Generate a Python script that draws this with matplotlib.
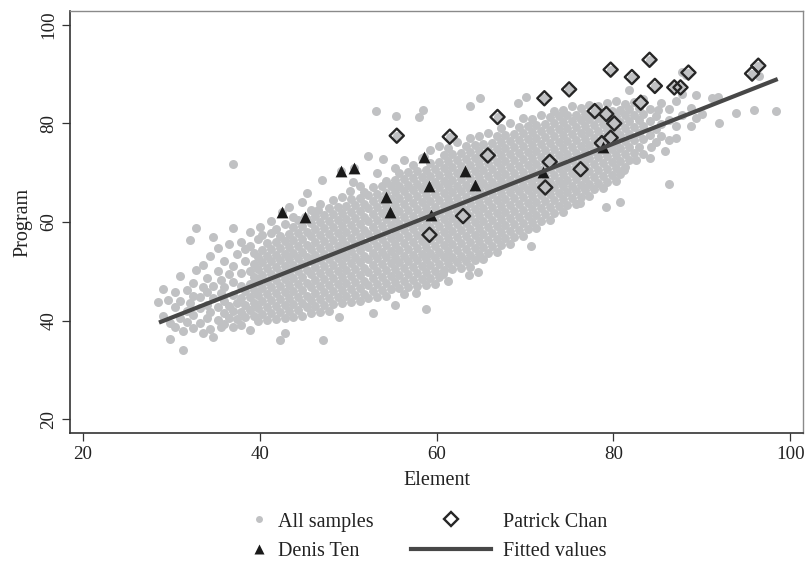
import numpy as np
import matplotlib.pyplot as plt
from matplotlib.lines import Line2D

plt.rcParams['font.family'] = ['Liberation Serif', 'DejaVu Serif']

# grey sample cloud: (element, [program, ...])
samples_30s = [
    (28.5, [43.8]), (29.1, [46.5, 41.0]), (29.6, [44.2]), (29.9, [36.2, 39.5]),
    (30.4, [38.7, 42.8, 45.7]), (31.0, [49.0, 40.5, 44.0]), (31.3, [34.1, 37.8]),
    (31.8, [42.0, 46.2, 39.8]), (32.1, [56.3, 43.5]), (32.5, [38.4, 41.2, 45.0, 47.6]),
    (32.8, [58.7, 50.2]), (33.2, [39.6, 42.6, 44.8]), (33.6, [51.3, 46.8, 37.5]),
    (34.0, [40.5, 43.2, 45.9, 48.6]), (34.4, [38.2, 41.8, 53.2]),
    (34.7, [36.7, 57.0, 44.5, 47.0]), (35.3, [54.7, 40.2, 42.8, 50.0]),
    (35.6, [45.5, 38.8, 48.2]), (36.0, [41.5, 44.0, 46.8, 52.0, 39.3]),
    (36.5, [43.0, 49.5, 55.5, 40.6]), (37.0, [71.7, 58.7, 38.8, 42.0, 45.2, 47.8, 51.0]),
    (37.4, [43.6, 40.4, 53.5]), (37.9, [39.1, 41.8, 44.5, 47.0, 49.6, 56.0]),
    (38.3, [40.8, 43.2, 46.0, 52.0, 54.6]),
    (38.9, [38.1, 42.2, 44.8, 47.4, 50.0, 55.2, 58.0]),
    (39.3, [41.0, 43.5, 46.2, 48.8, 51.4, 53.8]),
    (39.8, [40.0, 42.6, 45.2, 47.8, 50.4, 53.0, 56.5]),
]
samples_40s = [
    (40.0, [59.0]), (40.3, [41.4, 44.0, 46.6, 49.2, 51.8, 54.4, 57.4]),
    (40.8, [40.2, 42.8, 45.4, 48.0, 50.6, 53.2, 55.8]),
    (41.3, [41.6, 44.2, 46.8, 49.4, 52.0, 54.6, 57.8, 60.2]),
    (41.8, [40.4, 43.0, 45.6, 48.2, 50.8, 53.4, 56.0, 58.6]),
    (42.3, [36.0, 41.8, 44.4, 47.0, 49.6, 52.2, 54.8, 57.2]),
    (42.8, [37.4, 40.6, 43.2, 45.8, 48.4, 51.0, 53.6, 56.2, 59.6]),
    (43.3, [42.0, 44.6, 47.2, 49.8, 52.4, 55.0, 57.6, 63.0]),
    (43.8, [40.8, 43.4, 46.0, 48.6, 51.2, 53.8, 56.4, 59.0, 61.0]),
    (44.3, [42.2, 44.8, 47.4, 50.0, 52.6, 55.2, 57.8, 60.4]),
    (44.8, [41.0, 43.6, 46.2, 48.8, 51.4, 54.0, 56.6, 59.2, 64.0]),
    (45.3, [65.8, 42.8, 45.0, 47.6, 50.2, 52.8, 55.4, 58.0, 60.6]),
    (45.8, [41.6, 44.2, 46.8, 49.4, 52.0, 54.6, 57.2, 59.8, 62.4]),
    (46.3, [43.0, 45.6, 48.2, 50.8, 53.4, 56.0, 58.6, 61.2]), (46.6, [62.4]),
    (46.8, [41.8, 44.4, 47.0, 49.6, 52.2, 54.8, 57.4, 60.0, 63.6]),
    (47.0, [68.5]), (47.2, [36.0]),
    (47.3, [43.2, 45.8, 48.4, 51.0, 53.6, 56.2, 58.8, 61.4]),
    (47.8, [42.0, 44.6, 47.2, 49.8, 52.4, 55.0, 57.6, 60.2, 62.8]),
    (48.3, [43.4, 46.0, 48.6, 51.2, 53.8, 56.4, 59.0, 61.6, 64.4]),
    (48.8, [44.8, 47.4, 50.0, 52.6, 55.2, 57.8, 60.4, 63.0]), (49.0, [40.8]),
    (49.3, [43.6, 46.2, 48.8, 51.4, 54.0, 56.6, 59.2, 61.8, 65.0]),
    (49.8, [45.0, 47.6, 50.2, 52.8, 55.4, 58.0, 60.6, 63.2]),
]
samples_50s = [
    (50.2, [66.2]), (50.3, [43.8, 46.4, 49.0, 51.6, 54.2, 56.8, 59.4, 62.0, 64.6]),
    (50.5, [68.2]), (50.8, [45.2, 47.8, 50.4, 53.0, 55.6, 58.2, 60.8, 63.4]),
    (51.3, [44.0, 46.6, 49.2, 51.8, 54.4, 57.0, 59.6, 62.2, 64.8, 67.4]),
    (51.8, [45.4, 48.0, 50.6, 53.2, 55.8, 58.4, 61.0, 63.6, 66.0]), (52.2, [73.3]),
    (52.3, [44.6, 47.2, 49.8, 52.4, 55.0, 57.6, 60.2, 62.8, 65.4]),
    (52.8, [41.5, 46.0, 48.6, 51.2, 53.8, 56.4, 59.0, 61.6, 64.2, 67.0]), (53.2, [82.5]),
    (53.3, [44.8, 47.4, 50.0, 52.6, 55.2, 57.8, 60.4, 63.0, 65.6, 70.0]),
    (53.8, [46.2, 48.8, 51.4, 54.0, 56.6, 59.2, 61.8, 64.4, 67.2]), (53.9, [72.7]),
    (54.3, [45.0, 47.6, 50.2, 52.8, 55.4, 58.0, 60.6, 63.2, 65.8, 68.4]),
    (54.8, [46.4, 49.0, 51.6, 54.2, 56.8, 59.4, 62.0, 64.6, 67.2]),
    (55.3, [43.2, 47.8, 50.4, 53.0, 55.6, 58.2, 60.8, 63.4, 66.0, 68.6, 71.0]), (55.4, [81.4]),
    (55.8, [46.6, 49.2, 51.8, 54.4, 57.0, 59.6, 62.2, 64.8, 67.4, 70.0]),
    (56.3, [45.4, 48.0, 50.6, 53.2, 55.8, 58.4, 61.0, 63.6, 66.2, 68.8, 72.6]),
    (56.8, [46.8, 49.4, 52.0, 54.6, 57.2, 59.8, 62.4, 65.0, 67.6, 70.2]),
    (57.3, [48.2, 50.8, 53.4, 56.0, 58.6, 61.2, 63.8, 66.4, 69.0, 71.6]), (57.7, [45.5]),
    (57.8, [47.0, 49.6, 52.2, 54.8, 57.4, 60.0, 62.6, 65.2, 67.8, 70.4]), (58.0, [81.3]),
    (58.3, [48.4, 51.0, 53.6, 56.2, 58.8, 61.4, 64.0, 66.6, 69.2, 73.0]), (58.5, [82.7]),
    (58.8, [42.3, 47.2, 49.8, 52.4, 55.0, 57.6, 60.2, 62.8, 65.4, 68.0, 70.6]),
    (59.3, [48.6, 51.2, 53.8, 56.4, 59.0, 61.6, 64.2, 66.8, 69.4, 72.0, 74.6]),
    (59.8, [47.4, 50.0, 52.6, 55.2, 57.8, 60.4, 63.0, 65.6, 68.2, 70.8]),
]
samples_60s = [
    (60.3, [48.8, 51.4, 54.0, 56.6, 59.2, 61.8, 64.4, 67.0, 69.6, 72.2, 75.4]), (60.7, [49.4]),
    (60.8, [50.2, 52.8, 55.4, 58.0, 60.6, 63.2, 65.8, 68.4, 71.0, 73.6]),
    (61.3, [48.0, 51.6, 54.2, 56.8, 59.4, 62.0, 64.6, 67.2, 69.8, 72.4, 75.0]),
    (61.8, [50.4, 53.0, 55.6, 58.2, 60.8, 63.4, 66.0, 68.6, 71.2, 73.8]),
    (62.3, [51.8, 54.4, 57.0, 59.6, 62.2, 64.8, 67.4, 70.0, 72.6, 76.2]),
    (62.8, [50.6, 53.2, 55.8, 58.4, 61.0, 63.6, 66.2, 68.8, 71.4, 74.0]),
    (63.3, [52.0, 54.6, 57.2, 59.8, 62.4, 65.0, 67.6, 70.2, 72.8, 75.4]), (63.7, [49.2]),
    (63.8, [83.6, 50.8, 53.4, 56.0, 58.6, 61.2, 63.8, 66.4, 69.0, 71.6, 74.2, 77.0]),
    (64.3, [52.2, 54.8, 57.4, 60.0, 62.6, 65.2, 67.8, 70.4, 73.0, 75.6]), (64.7, [49.9]),
    (64.8, [53.6, 56.2, 58.8, 61.4, 64.0, 66.6, 69.2, 71.8, 74.4, 77.4]), (64.9, [85.2]),
    (65.3, [52.4, 55.0, 57.6, 60.2, 62.8, 65.4, 68.0, 70.6, 73.2, 75.8]),
    (65.8, [53.8, 56.4, 59.0, 61.6, 64.2, 66.8, 69.4, 72.0, 74.6, 78.0]),
    (66.3, [55.2, 57.8, 60.4, 63.0, 65.6, 68.2, 70.8, 73.4, 76.0]),
    (66.8, [54.0, 56.6, 59.2, 61.8, 64.4, 67.0, 69.6, 72.2, 74.8, 77.4]),
    (67.3, [55.4, 58.0, 60.6, 63.2, 65.8, 68.4, 71.0, 73.6, 76.2, 79.0]),
    (67.8, [56.8, 59.4, 62.0, 64.6, 67.2, 69.8, 72.4, 75.0, 77.6]),
    (68.3, [55.6, 58.2, 60.8, 63.4, 66.0, 68.6, 71.2, 73.8, 76.4, 80.0]),
    (68.8, [57.0, 59.6, 62.2, 64.8, 67.4, 70.0, 72.6, 75.2, 77.8]), (69.2, [84.1]),
    (69.3, [58.4, 61.0, 63.6, 66.2, 68.8, 71.4, 74.0, 76.6, 79.2]),
    (69.8, [57.2, 59.8, 62.4, 65.0, 67.6, 70.2, 72.8, 75.4, 78.0, 81.0]),
]
samples_70s = [
    (70.1, [85.4]), (70.3, [58.6, 61.2, 63.8, 66.4, 69.0, 71.6, 74.2, 76.8, 79.4]),
    (70.7, [55.1]), (70.8, [60.0, 62.6, 65.2, 67.8, 70.4, 73.0, 75.6, 78.2, 80.8]),
    (71.3, [58.8, 61.4, 64.0, 66.6, 69.2, 71.8, 74.4, 77.0, 79.6]),
    (71.8, [60.2, 62.8, 65.4, 68.0, 70.6, 73.2, 75.8, 78.4, 81.6]),
    (72.3, [61.6, 64.2, 66.8, 69.4, 72.0, 74.6, 77.2, 79.8]),
    (72.8, [60.4, 63.0, 65.6, 68.2, 70.8, 73.4, 76.0, 78.6, 81.2]),
    (73.3, [61.8, 64.4, 67.0, 69.6, 72.2, 74.8, 77.4, 80.0, 82.6]),
    (73.8, [63.2, 65.8, 68.4, 71.0, 73.6, 76.2, 78.8, 81.4]),
    (74.3, [62.0, 64.6, 67.2, 69.8, 72.4, 75.0, 77.6, 80.2, 82.8]),
    (74.8, [63.4, 66.0, 68.6, 71.2, 73.8, 76.4, 79.0, 81.6]),
    (75.3, [64.8, 67.4, 70.0, 72.6, 75.2, 77.8, 80.4, 83.6]),
    (75.8, [63.6, 66.2, 68.8, 71.4, 74.0, 76.6, 79.2, 81.8]), (76.2, [63.8]),
    (76.3, [65.0, 67.6, 70.2, 72.8, 75.4, 78.0, 80.6, 83.2]),
    (76.8, [66.4, 69.0, 71.6, 74.2, 76.8, 79.4, 82.0]),
    (77.3, [65.2, 67.8, 70.4, 73.0, 75.6, 78.2, 80.8, 83.8]),
    (77.8, [66.6, 69.2, 71.8, 74.4, 77.0, 79.6, 82.2]),
    (78.3, [68.0, 70.6, 73.2, 75.8, 78.4, 81.0, 83.6]),
    (78.8, [66.8, 69.4, 72.0, 74.6, 77.2, 79.8, 82.4]), (79.2, [63.0]),
    (79.3, [68.2, 70.8, 73.4, 76.0, 78.6, 81.2, 84.2]),
    (79.8, [69.6, 72.2, 74.8, 77.4, 80.0, 82.6]),
]
samples_80s_90s = [
    (80.3, [68.4, 71.0, 73.6, 76.2, 78.8, 81.4, 84.6]), (80.7, [64.1]),
    (80.8, [69.8, 72.4, 75.0, 77.6, 80.2, 82.8]), (81.2, [70.6]),
    (81.3, [71.2, 73.8, 76.4, 79.0, 81.6, 84.0]), (81.8, [86.8, 72.6, 75.2, 77.8, 80.4, 83.0]),
    (82.3, [74.0, 76.6, 79.2, 81.8, 84.4]), (82.6, [72.6]), (82.9, [75.3, 78.0, 80.6, 83.2]),
    (83.4, [73.8, 76.8, 79.4, 82.0, 85.0]), (84.1, [72.9, 77.6, 80.4, 83.0]), (84.3, [75.3]),
    (84.8, [76.2, 78.8, 81.4]), (85.0, [82.7]), (85.4, [84.1, 77.4, 79.8]), (85.8, [74.3]),
    (86.3, [67.8, 76.6, 80.6, 83.0]), (87.1, [79.4, 77.0, 84.6]), (87.8, [90.5, 81.6, 86.0]),
    (88.2, [89.8]), (88.8, [79.4, 83.2]), (89.3, [81.1, 85.8]), (90.0, [82.0]),
    (91.2, [85.2]), (91.8, [85.4]), (92.0, [80.0]), (93.9, [82.1]), (95.9, [82.7]),
    (96.5, [89.6]), (98.4, [82.6]),
]

ten_x = [42.5, 45.1, 49.2, 50.7, 54.3, 54.7, 58.6, 59.1, 59.4, 63.2, 64.4, 72.0, 78.8]
ten_y = [62.0, 61.1, 70.4, 70.9, 65.0, 62.1, 73.1, 67.3, 61.4, 70.4, 67.5, 70.2, 75.3]

chan_x = [55.5, 59.2, 61.5, 63.0, 65.8, 66.9, 72.2, 72.3, 72.8, 75.0, 76.3, 77.9, 78.7,
          79.2, 79.7, 79.7, 80.1, 82.1, 83.1, 84.1, 84.7, 86.9, 87.6, 88.5, 95.7, 96.4]
chan_y = [77.5, 57.4, 77.3, 61.2, 73.5, 81.3, 85.1, 67.0, 72.2, 86.9, 70.7, 82.5, 76.0,
          81.9, 77.1, 90.9, 80.0, 89.4, 84.2, 92.9, 87.6, 87.3, 87.3, 90.3, 90.1, 91.7]

fit_x = [28.6, 98.6]
fit_y = [39.6, 89.0]

grey_x, grey_y = [], []
for group in [samples_30s, samples_40s, samples_50s, samples_60s, samples_70s, samples_80s_90s]:
    for x, ys in group:
        grey_x += [x] * len(ys)
        grey_y += ys
# every highlighted skater is also one of the samples
grey_x += ten_x + chan_x
grey_y += ten_y + chan_y

fig = plt.figure(figsize=(8.09, 5.63), dpi=100)
ax = fig.add_axes([0.0865, 0.2309, 0.9062, 0.7496])

grey = '#c0c1c3'
ax.scatter(grey_x, grey_y, s=42, color=grey, linewidths=0, zorder=1)
ax.scatter(ten_x, ten_y, marker='^', s=72, color='#1a1a1a', linewidths=0, zorder=2)
ax.scatter(chan_x, chan_y, marker='D', s=52, facecolors='none', edgecolors='#262626',
           linewidths=1.7, zorder=3)
ax.plot(fit_x, fit_y, color='#474747', lw=3.0, solid_capstyle='butt', zorder=4)

ax.set_xlim(18.53, 101.47)
ax.set_ylim(17.2, 102.8)
ax.set_xticks([20, 40, 60, 80, 100])
ax.set_yticks([20, 40, 60, 80, 100])
ax.tick_params(axis='both', direction='out', length=6, width=0.9, color='#333333',
               labelsize=13.6, labelcolor='#222222', pad=3)
ax.tick_params(axis='y', labelrotation=90)
for t in ax.get_yticklabels():
    t.set_va('center')
for side in ['left', 'bottom']:
    ax.spines[side].set_color('#333333')
    ax.spines[side].set_linewidth(1.2)
for side in ['top', 'right']:
    ax.spines[side].set_color('#8a8a8a')
    ax.spines[side].set_linewidth(1.0)

ax.set_xlabel('Element', fontsize=14.5, color='#222222', labelpad=6)
ax.set_ylabel('Program', fontsize=14.5, color='#222222', labelpad=6)

# legend in two separate columns, like the Stata layout
h_all = Line2D([], [], ls='none', marker='o', ms=5, color=grey, mec='none')
h_ten = Line2D([], [], ls='none', marker='^', ms=7, color='#1a1a1a', mec='none')
h_chan = Line2D([], [], ls='none', marker='D', ms=7, mfc='none', mec='#262626', mew=1.7)
h_fit = Line2D([], [], color='#474747', lw=3.0)

leg1 = fig.legend([h_all, h_ten], ['All samples', 'Denis Ten'], loc='center left',
                  bbox_to_anchor=(0.3066, 0.047), frameon=False, fontsize=14.5,
                  handlelength=1.1, handletextpad=0.4, labelspacing=0.5,
                  borderpad=0, borderaxespad=0)
leg2 = fig.legend([h_chan, h_fit], ['Patrick Chan', 'Fitted values'], loc='center left',
                  bbox_to_anchor=(0.508, 0.047), frameon=False, fontsize=14.5,
                  handlelength=3.95, handletextpad=0.6, labelspacing=0.5,
                  borderpad=0, borderaxespad=0)
for leg in [leg1, leg2]:
    for t in leg.get_texts():
        t.set_color('#222222')

fig.savefig('out.png', dpi=100)
